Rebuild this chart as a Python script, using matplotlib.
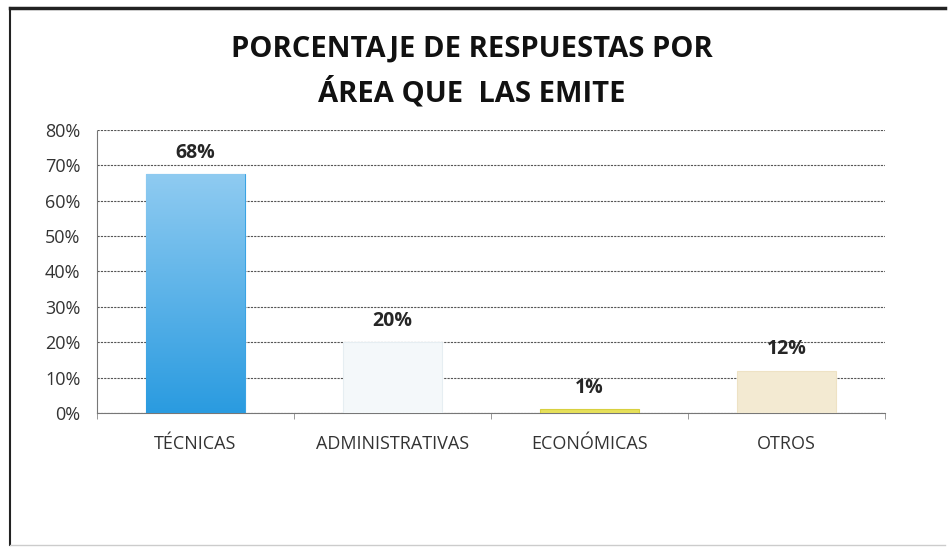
import numpy as np
import matplotlib.pyplot as plt
from matplotlib.lines import Line2D
from matplotlib.colors import LinearSegmentedColormap

# datos
areas = ['TÉCNICAS', 'ADMINISTRATIVAS', 'ECONÓMICAS', 'OTROS']
porcentajes = [0.675, 0.20, 0.01, 0.12]
colores = ['#3aa3e3', '#f4f8fa', '#e6e05a', '#f3ead2']
marcos = ['#3aa3e3', '#e6eef2', '#d8d040', '#eee2c4']
yticks = [0, 0.1, 0.2, 0.3, 0.4, 0.5, 0.6, 0.7, 0.8]

plt.rcParams['font.family'] = ['Open Sans', 'DejaVu Sans']

fig = plt.figure(figsize=(9.53, 5.48), dpi=100)
ax = fig.add_axes([0.1018, 0.2464, 0.827, 0.5164])

x = np.arange(len(areas))
bars = ax.bar(x, porcentajes, width=0.5, color=colores, edgecolor=marcos, linewidth=0.8, zorder=3)

# degradado para la primera barra
cmap = LinearSegmentedColormap.from_list('azul', ['#2a9be0', '#8fcbf1'])
b0 = bars[0]
grad = np.linspace(0, 1, 256).reshape(-1, 1)
im = ax.imshow(grad, cmap=cmap, aspect='auto', origin='lower', zorder=3.5,
               extent=[b0.get_x(), b0.get_x() + b0.get_width(), 0, b0.get_height()])
im.set_clip_path(b0)

# etiquetas de valor
for xi, v in zip(x, porcentajes):
    ax.annotate(f'{v:.0%}', (xi, v), xytext=(0, 8), textcoords='offset points',
                ha='center', va='bottom', fontsize=14, fontweight='bold', color='#262626')

ax.set_xlim(-0.5, len(areas) - 0.5)
ax.set_ylim(0, 0.8)
ax.set_yticks(yticks)
ax.set_yticklabels([f'{int(round(t * 100))}%' for t in yticks])
ax.set_xticks(x)
ax.set_xticklabels(areas)
ax.tick_params(axis='y', length=0, labelsize=13, pad=12, colors='#333333')
ax.tick_params(axis='x', length=0, labelsize=13, pad=16, colors='#333333')
ax.set_xticks(np.arange(len(areas) + 1) - 0.5, minor=True)
ax.tick_params(axis='x', which='minor', length=4, color='#888888', direction='out')

ax.grid(axis='y', color='#555555', linestyle=(0, (2, 1)), linewidth=0.8, zorder=0)
for s in ['top', 'right']:
    ax.spines[s].set_visible(False)
ax.spines['left'].set_color('#777777')
ax.spines['left'].set_linestyle((0, (2, 1)))
ax.spines['left'].set_linewidth(0.8)
ax.spines['bottom'].set_color('#777777')
ax.spines['bottom'].set_linestyle((0, (2, 1)))
ax.spines['bottom'].set_linewidth(0.8)

fig.text(0.495, 0.869, 'PORCENTAJE DE RESPUESTAS POR\nÁREA QUE  LAS EMITE', ha='center', va='center',
         fontsize=21, fontweight='bold', color='#111111', linespacing=1.55)

# marco del gráfico
fig.add_artist(Line2D([10 / 953, 945 / 953], [1 - 8 / 548, 1 - 8 / 548], color='#222222', linewidth=2.5))
fig.add_artist(Line2D([10 / 953, 10 / 953], [1 - 8 / 548, 1 - 545 / 548], color='#222222', linewidth=1.5))
fig.add_artist(Line2D([10 / 953, 945 / 953], [1 - 545 / 548, 1 - 545 / 548], color='#cccccc', linewidth=1.0))

fig.savefig('out.png', dpi=100)
